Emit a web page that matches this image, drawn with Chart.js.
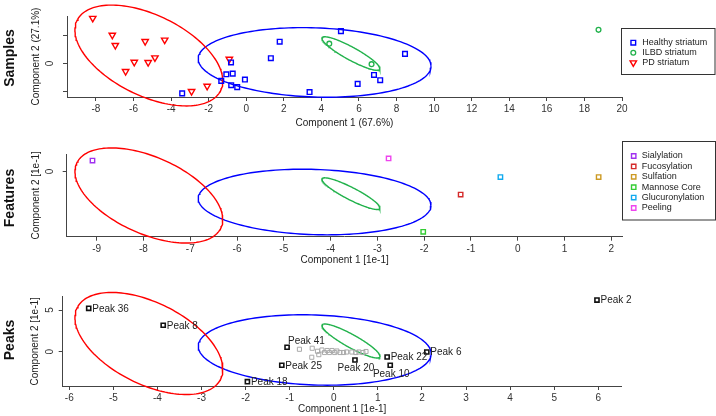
<!DOCTYPE html>
<html>
<head>
<meta charset="utf-8">
<script src="https://cdn.jsdelivr.net/npm/chart.js@4.4.1/dist/chart.umd.min.js"></script>
<style>
  html, body { margin: 0; padding: 0; background: #fff; }
  #wrap { position: relative; width: 716px; height: 416px; overflow: hidden; font-family: "Liberation Sans", Arial, sans-serif; }
  #wrap canvas { position: absolute; left: 0; }
  .panel-name { position: absolute; font-weight: bold; font-size: 14px; color: #111; white-space: nowrap;
                transform: translate(-50%, -50%) rotate(-90deg); }
</style>
</head>
<body>
<div id="wrap">
  <canvas id="samples" width="716" height="138" style="top:0px"></canvas>
  <canvas id="features" width="716" height="140" style="top:138px"></canvas>
  <canvas id="peaks" width="716" height="138" style="top:278px"></canvas>
  <div class="panel-name" style="left:9px; top:58px">Samples</div>
  <div class="panel-name" style="left:9px; top:198px">Features</div>
  <div class="panel-name" style="left:9px; top:340px">Peaks</div>
</div>
<script>
const FONT = '"Liberation Sans", Arial, sans-serif';

// ---- Samples: scores on component 1 / component 2
const healthyX = [-3.41, -1.33, -1.06, -0.72, -0.81, -0.80, -0.48, -0.07, 1.31, 1.78, 3.37, 5.04, 5.93, 6.80, 7.13, 8.45];
const healthyY = [-5.41, -3.16, -1.96, -1.84, 0.18, -3.93, -4.29, -2.91, 0.95, 3.93, -5.18, 5.84, -3.70, -2.09, -3.04, 1.73];
const ilbdX = [4.42, 6.67, 18.75];
const ilbdY = [3.57, -0.13, 6.07];
const pdX = [-8.17, -7.13, -6.97, -5.38, -4.34, -5.96, -5.22, -4.86, -6.42, -2.91, -2.08, -0.90];
const pdY = [8.16, 5.13, 3.27, 3.98, 4.23, 0.23, 0.18, 1.02, -1.43, -5.05, -4.11, 0.77];
const samplesXTicks = [-8, -6, -4, -2, 0, 2, 4, 6, 8, 10, 12, 14, 16, 18, 20];
const samplesYTicks = [-5, 0, 5];
const samplesYTickLabels = ['', '0', ''];

// ---- Features: loadings [1e-1]
const featureNames = ['Sialylation', 'Fucosylation', 'Sulfation', 'Mannose Core', 'Glucuronylation', 'Peeling'];
const featureX = [-9.09, -1.22, 1.73, -2.02, -0.37, -2.76];
const featureY = [0.146, -0.31, -0.075, -0.81, -0.075, 0.175];
const featureColors = ['#a030f0', '#d42a2a', '#cc9922', '#33cc33', '#11aaee', '#ee44ee'];
const featuresXTicks = [-9, -8, -7, -6, -5, -4, -3, -2, -1, 0, 1, 2];
const featuresYTicks = [0];
const featuresYTickLabels = ['0'];

// ---- Peaks: loadings [1e-1]
const peakNames = ['Peak 36', 'Peak 8', 'Peak 41', 'Peak 25', 'Peak 18', 'Peak 20', 'Peak 22', 'Peak 10', 'Peak 6', 'Peak 2'];
const peakX = [-5.56, -3.87, -1.06, -1.18, -1.96, 0.48, 1.21, 1.28, 2.11, 5.97];
const peakY = [5.21, 3.17, 0.53, -1.63, -3.60, -1.00, -0.64, -1.63, -0.04, 6.20];
const labelPlace = ['right', 'right', 'aboveRight', 'right', 'right', 'below', 'right', 'below', 'right', 'right'];
const otherPeakX = [-0.78, -0.49, -0.50, -0.34, -0.37, -0.27, -0.21, -0.15, -0.10, -0.04, 0.02, 0.07, 0.14, 0.22, 0.29, 0.41, 0.50, 0.57, 0.66, 0.73];
const otherPeakY = [0.29, 0.41, -0.67, -0.36, 0.05, 0.20, -0.10, 0.14, -0.10, 0.14, -0.10, 0.08, -0.10, -0.10, -0.04, -0.04, -0.10, -0.04, -0.10, 0.02];
const peaksXTicks = [-6, -5, -4, -3, -2, -1, 0, 1, 2, 3, 4, 5, 6];
const peaksYTicks = [0, 5];
const peaksYTickLabels = ['0', '5'];

// group ellipses: centre and the two semi-axis vectors, in each panel's units
const groupColors = { Healthy: '#0000ff', ILBD: '#22b24c', PD: '#ff0000' };
const samplesEllipses = [
  { group: 'PD', c: [-5.184, 1.429], u: [3.814, -6.386], v: [-0.966, -6.504] },
  { group: 'Healthy', c: [3.640, 0.179], u: [6.196, -0.726], v: [-0.065, -6.246] },
  { group: 'ILBD', c: [5.572, 1.786], u: [1.536, -2.857], v: [-0.168, -1.015] }
];
const featuresEllipses = [
  { group: 'PD', c: [-7.885, -0.3225], u: [1.531, -0.447], v: [-0.388, -0.455] },
  { group: 'Healthy', c: [-4.342, -0.410], u: [2.488, -0.051], v: [-0.026, -0.437] },
  { group: 'ILBD', c: [-3.566, -0.2975], u: [0.617, -0.200], v: [-0.067, -0.071] }
];
const peaksEllipses = [
  { group: 'PD', c: [-4.195, 0.984], u: [1.626, -4.293], v: [-0.412, -4.372] },
  { group: 'Healthy', c: [-0.433, 0.204], u: [2.641, -0.488], v: [-0.028, -4.199] },
  { group: 'ILBD', c: [0.390, 1.285], u: [0.655, -1.921], v: [-0.072, -0.682] }
];

function pts(xs, ys) { return xs.map((x, i) => ({ x: x, y: ys[i] })); }

function ellipseSets(list) {
  return list.map(e => {
    const data = [];
    for (let i = 0; i <= 160; i++) {
      const t = 2 * Math.PI * i / 160;
      data.push({
        x: e.c[0] + e.u[0] * Math.cos(t) + e.v[0] * Math.sin(t),
        y: e.c[1] + e.u[1] * Math.cos(t) + e.v[1] * Math.sin(t)
      });
    }
    return { data: data, showLine: true, pointRadius: 0, borderColor: groupColors[e.group],
             borderWidth: 1.4, fill: false, tension: 0, clip: false };
  });
}

function markers(label, data, color, style, r, bw, extra) {
  return Object.assign({
    label: label, data: data, inLegend: true, pointStyle: style, pointRadius: r,
    pointBorderWidth: bw, pointBorderColor: color, borderColor: color,
    pointBackgroundColor: 'rgba(0,0,0,0)', backgroundColor: 'rgba(0,0,0,0)', clip: false
  }, extra || {});
}

// framed legend like the R one
const boxLegend = {
  id: 'boxLegend',
  afterDraw(chart, args, o) {
    if (!o || !o.display) return;
    const ctx = chart.ctx;
    ctx.save();
    ctx.lineWidth = 1;
    ctx.strokeStyle = '#333';
    ctx.strokeRect(o.x, o.y, o.w, o.h);
    ctx.font = '9px ' + FONT;
    ctx.textBaseline = 'middle';
    ctx.textAlign = 'left';
    let row = 0;
    chart.data.datasets.forEach(ds => {
      if (!ds.inLegend) return;
      const y = o.y + o.first + row * o.step;
      ctx.fillStyle = 'rgba(0,0,0,0)';
      ctx.strokeStyle = ds.pointBorderColor;
      ctx.lineWidth = ds.pointBorderWidth;
      Chart.helpers.drawPoint(ctx, { pointStyle: ds.pointStyle, radius: ds.pointRadius,
        rotation: ds.pointRotation || 0, borderWidth: ds.pointBorderWidth }, o.x + o.markerX, y);
      ctx.fillStyle = '#222';
      ctx.fillText(ds.label, o.x + o.textX, y);
      row++;
    });
    ctx.restore();
  }
};

// text next to the labelled peaks
const peakLabels = {
  id: 'peakLabels',
  afterDatasetsDraw(chart) {
    const ctx = chart.ctx;
    chart.data.datasets.forEach((ds, i) => {
      if (!ds.names) return;
      const meta = chart.getDatasetMeta(i);
      ctx.save();
      ctx.font = '10px ' + FONT;
      ctx.fillStyle = '#222';
      ctx.textBaseline = 'middle';
      meta.data.forEach((el, j) => {
        const p = ds.places[j];
        if (p === 'below') { ctx.textAlign = 'center'; ctx.fillText(ds.names[j], el.x + 1, el.y + 8.5); }
        else if (p === 'aboveRight') { ctx.textAlign = 'left'; ctx.fillText(ds.names[j], el.x + 1, el.y - 6.5); }
        else { ctx.textAlign = 'left'; ctx.fillText(ds.names[j], el.x + 3.5, el.y + 0.5); }
      });
      ctx.restore();
    });
  }
};

function makeChart(id, datasets, p, legend) {
  const tickFont = { size: 10, family: FONT };
  return new Chart(document.getElementById(id), {
    type: 'scatter',
    data: { datasets: datasets },
    plugins: [boxLegend, peakLabels],
    options: {
      responsive: false,
      animation: false,
      devicePixelRatio: 1,
      events: [],
      layout: { padding: { top: p.top, right: 716 - p.right, left: 0, bottom: 0 } },
      plugins: {
        legend: { display: false },
        tooltip: { enabled: false },
        boxLegend: legend
      },
      scales: {
        x: {
          type: 'linear', min: p.xMin, max: p.xMax,
          afterBuildTicks: s => { s.ticks = p.xTicks.map(v => ({ value: v })); },
          afterFit: s => { s.height = p.h - p.bottom; },
          border: { color: '#444', width: 1 },
          grid: { drawOnChartArea: false, tickLength: 4, color: '#444' },
          ticks: { padding: 2.5, color: '#333', font: tickFont, maxRotation: 0, autoSkip: false,
                   callback: v => String(v) },
          title: { display: true, text: p.xTitle, color: '#222', font: tickFont,
                   padding: { top: 0, bottom: p.xTitlePad } }
        },
        y: {
          type: 'linear', min: p.yMin, max: p.yMax,
          afterBuildTicks: s => { s.ticks = p.yTicks.map(v => ({ value: v })); },
          afterFit: s => { s.width = p.left; },
          border: { color: '#444', width: 1 },
          grid: { drawOnChartArea: false, tickLength: 4, color: '#444' },
          ticks: { padding: p.yTickPad, color: '#333', font: tickFont, minRotation: 90, maxRotation: 90,
                   crossAlign: 'center', autoSkip: false,
                   callback: v => p.yTickLabels[p.yTicks.indexOf(v)] },
          title: { display: true, text: p.yTitle, color: '#222', font: tickFont,
                   padding: { top: p.yTitlePad, bottom: 0 } }
        }
      }
    }
  });
}

makeChart('samples', [
  markers('Healthy striatum', pts(healthyX, healthyY), groupColors.Healthy, 'rect', 3.3, 1.4),
  markers('ILBD striatum', pts(ilbdX, ilbdY), groupColors.ILBD, 'circle', 2.4, 1.3),
  markers('PD striatum', pts(pdX, pdY), groupColors.PD, 'triangle', 3.7, 1.4, { pointRotation: 180 })
].concat(ellipseSets(samplesEllipses)), {
  h: 138, top: 15, bottom: 97, left: 67, right: 622,
  xMin: -9.54, xMax: 20, yMin: -6.07, yMax: 8.57,
  xTicks: samplesXTicks, yTicks: samplesYTicks, yTickLabels: samplesYTickLabels,
  xTitle: 'Component 1 (67.6%)', yTitle: 'Component 2 (27.1%)',
  xTitlePad: 8.5, yTitlePad: 30, yTickPad: 10
}, { display: true, x: 621.5, y: 28.5, w: 93.5, h: 46, markerX: 11.8, textX: 20.8, first: 14.2, step: 10 });

makeChart('features', featureNames.map((n, i) =>
  markers(n, [{ x: featureX[i], y: featureY[i] }], featureColors[i], 'rect', 3.1, 1.4)
).concat(ellipseSets(featuresEllipses)), {
  h: 140, top: 10, bottom: 98.7, left: 66.7, right: 622.5,
  xMin: -9.641, xMax: 2.24, yMin: -0.875, yMax: 0.234,
  xTicks: featuresXTicks, yTicks: featuresYTicks, yTickLabels: featuresYTickLabels,
  xTitle: 'Component 1 [1e-1]', yTitle: 'Component 2 [1e-1]',
  xTitlePad: 11.5, yTitlePad: 30, yTickPad: 10
}, { display: true, x: 622.5, y: 3.5, w: 93, h: 78.5, markerX: 11.2, textX: 19.2, first: 14.5, step: 10.4 });

const peakSet = markers('Labelled peaks', pts(peakX, peakY), '#111', 'rect', 2.9, 1.6, { inLegend: false });
peakSet.names = peakNames;
peakSet.places = labelPlace;
makeChart('peaks', [
  markers('Other peaks', pts(otherPeakX, otherPeakY), '#aaaaaa', 'rect', 2.9, 1, { inLegend: false })
].concat(ellipseSets(peaksEllipses), [peakSet]), {
  h: 138, top: 18.7, bottom: 108, left: 62.7, right: 621.7,
  xMin: -6.15, xMax: 6.531, yMin: -4.12, yMax: 6.6,
  xTicks: peaksXTicks, yTicks: peaksYTicks, yTickLabels: peaksYTickLabels,
  xTitle: 'Component 1 [1e-1]', yTitle: 'Component 2 [1e-1]',
  xTitlePad: 0.5, yTitlePad: 29, yTickPad: 6
}, { display: false });
</script>
</body>
</html>
